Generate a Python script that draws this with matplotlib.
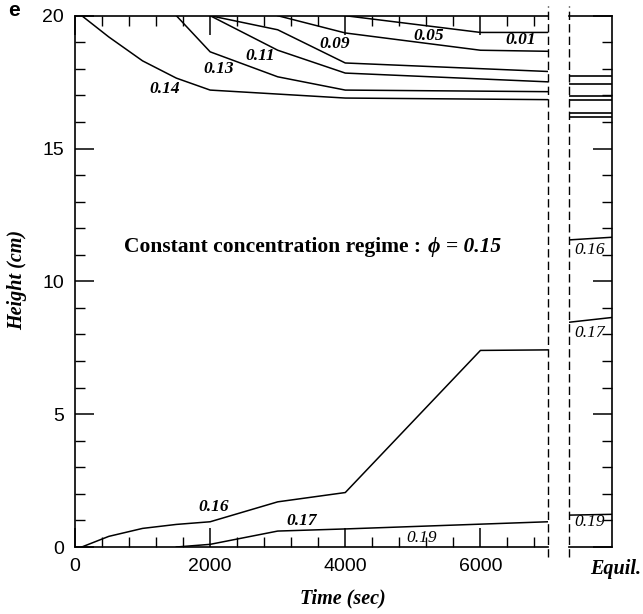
import numpy as np
import matplotlib.pyplot as plt
from matplotlib.ticker import MultipleLocator

plt.rcParams['font.family'] = ['Liberation Sans', 'DejaVu Sans']

# iso-concentration lines : time (sec) vs height (cm)
t_001 = [4000, 6000, 7000]
h_001 = [20.0, 19.37, 19.37]
t_005 = [3000, 4000, 6000, 7000]
h_005 = [20.0, 19.35, 18.7, 18.66]
t_009 = [2000, 3000, 4000, 7000]
h_009 = [20.0, 19.47, 18.22, 17.9]
t_011 = [2000, 3000, 4000, 7000]
h_011 = [20.0, 18.7, 17.84, 17.51]
t_013 = [1500, 2000, 3000, 4000, 7000]
h_013 = [20.0, 18.64, 17.7, 17.2, 17.14]
t_014 = [100, 500, 1000, 1500, 2000, 4000, 7000]
h_014 = [20.0, 19.2, 18.3, 17.65, 17.2, 16.9, 16.84]
t_016 = [100, 500, 1000, 1500, 2000, 3000, 4000, 6000, 7000]
h_016 = [0.0, 0.4, 0.7, 0.85, 0.95, 1.7, 2.05, 7.4, 7.42]
t_017 = [1500, 2000, 3000, 4000, 7000]
h_017 = [0.0, 0.1, 0.6, 0.68, 0.95]

# curve labels (main panel)
lab_txt = ['0.14', '0.13', '0.11', '0.09', '0.05', '0.01', '0.16', '0.17']
lab_t = [1333, 2120, 2740, 3840, 5240, 6590, 2060, 3360]
lab_h = [17.25, 18.0, 18.5, 18.95, 19.25, 19.07, 1.52, 0.98]

# equilibrium panel
eq_flat = [17.74, 17.43, 16.99, 16.84, 16.35, 16.19]
eq_txt = ['0.16', '0.17', '0.19']
eq_left = [11.56, 8.46, 1.20]
eq_right = [11.66, 8.64, 1.23]
eq_lab_h = [11.19, 8.06, 0.94]

W, H = 643., 614.
fig = plt.figure(figsize=(W / 100, H / 100), dpi=100)

# main panel
ax = fig.add_axes([75 / W, 1 - 547 / H, (548 - 75) / W, (547 - 15.7) / H])
for _t, _h in [(t_001, h_001), (t_005, h_005), (t_009, h_009), (t_011, h_011),
               (t_013, h_013), (t_014, h_014), (t_016, h_016), (t_017, h_017)]:
    ax.plot(_t, _h, color='black', lw=1.1)

for _s, _x, _y in zip(lab_txt, lab_t, lab_h):
    ax.text(_x, _y, _s, ha='center', va='center', fontsize=12.5,
            family='Liberation Serif', style='italic', weight='bold')
ax.text(5125, 0.34, '0.19', ha='center', va='center', fontsize=12.5,
        family='Liberation Serif', style='italic')

ax.set_xlim(0, 7000)
ax.set_ylim(0, 20)
ax.set_xticks([0, 2000, 4000, 6000])
ax.set_yticks([0, 5, 10, 15, 20])
ax.xaxis.set_minor_locator(MultipleLocator(400))
ax.yaxis.set_minor_locator(MultipleLocator(1))
ax.tick_params(which='major', direction='in', length=14, width=1.1,
               top=True, right=False, labelsize=14, pad=8)
ax.tick_params(which='minor', direction='in', length=7, width=1.0,
               top=True, right=False)
ax.spines['right'].set_visible(False)
for _sp in ['left', 'top', 'bottom']:
    ax.spines[_sp].set_linewidth(1.2)
ax.plot([1, 1], [-0.019, 1.019], transform=ax.transAxes, clip_on=False,
        color='black', lw=1.0, ls=(0, (6, 3)))

# equilibrium panel
ax2 = fig.add_axes([569 / W, 1 - 547 / H, (612 - 569) / W, (547 - 15.7) / H])
for _h in eq_flat:
    ax2.plot([0, 1], [_h, _h], color='black', lw=1.2)
for _a, _b in zip(eq_left, eq_right):
    ax2.plot([0, 1], [_a, _b], color='black', lw=1.1)
for _s, _y in zip(eq_txt, eq_lab_h):
    ax2.text(0.47, _y, _s, ha='center', va='center', fontsize=12.5,
             family='Liberation Serif', style='italic')
ax2.set_xlim(0, 1)
ax2.set_ylim(0, 20)
ax2.set_xticks([])
ax2.set_yticks([0, 5, 10, 15, 20])
ax2.yaxis.set_minor_locator(MultipleLocator(1))
ax2.yaxis.tick_right()
ax2.tick_params(which='major', direction='in', length=14, width=1.1,
                left=False, right=True, labelright=False)
ax2.tick_params(which='minor', direction='in', length=7, width=1.0,
                left=False, right=True)
ax2.spines['left'].set_visible(False)
for _sp in ['right', 'top', 'bottom']:
    ax2.spines[_sp].set_linewidth(1.2)
ax2.plot([0, 0], [-0.019, 1.019], transform=ax2.transAxes, clip_on=False,
         color='black', lw=1.0, ls=(0, (6, 3)))

# texts
t1 = fig.text(124 / W, 1 - 257 / H, 'Constant concentration regime :',
              fontsize=15.5, family='Liberation Serif', weight='bold',
              ha='left', va='bottom')
ax.annotate('\u03d5 = 0.15', xy=(1, 0), xycoords=t1, xytext=(5, 0),
            textcoords='offset points', fontsize=15.5, family='Liberation Serif',
            weight='bold', style='italic', ha='left', va='bottom')

fig.text(17 / W, 1 - 280 / H, 'Height (cm)', rotation=90, ha='center', va='center',
         fontsize=14.5, family='Liberation Serif', weight='bold', style='italic')
fig.text(343 / W, 1 - 598 / H, 'Time (sec)', ha='center', va='center',
         fontsize=14.5, family='Liberation Serif', weight='bold', style='italic')
fig.text(616 / W, 1 - 569 / H, 'Equil.', ha='center', va='center',
         fontsize=14.5, family='Liberation Serif', weight='bold', style='italic')
fig.text(14 / W, 1 - 10 / H, 'e', ha='center', va='center',
         fontsize=15, weight='bold')

fig.savefig('out.png', dpi=100)
